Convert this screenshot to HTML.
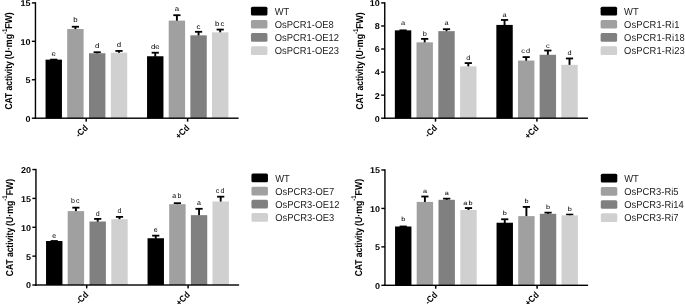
<!DOCTYPE html>
<html><head><meta charset="utf-8"><title>CAT activity</title>
<style>html,body{margin:0;padding:0;background:#fff;}svg{display:block;}</style>
</head><body>
<svg text-rendering="geometricPrecision" width="685" height="304" viewBox="0 0 685 304">
<rect width="685" height="304" fill="#fff"/>
<rect x="52.80" y="59.63" width="1.9" height="0.50" fill="#000"/>
<rect x="50.15" y="58.73" width="7.2" height="1.8" fill="#000"/>
<rect x="45.55" y="59.63" width="16.4" height="58.57" fill="#000000"/>
<text transform="translate(53.75,56.43) scale(1.15,1)" text-anchor="middle" font-family="Liberation Sans, sans-serif" font-size="6.8" fill="#000" letter-spacing="0">e</text>
<rect x="74.45" y="26.73" width="1.9" height="2.81" fill="#000"/>
<rect x="71.80" y="25.83" width="7.2" height="1.8" fill="#000"/>
<rect x="67.20" y="29.03" width="16.4" height="89.17" fill="#a0a0a0"/>
<text transform="translate(75.40,21.93) scale(1.15,1)" text-anchor="middle" font-family="Liberation Sans, sans-serif" font-size="6.8" fill="#000" letter-spacing="0">b</text>
<rect x="96.25" y="52.25" width="1.9" height="1.50" fill="#000"/>
<rect x="93.60" y="51.35" width="7.2" height="1.8" fill="#000"/>
<rect x="89.00" y="53.25" width="16.4" height="64.95" fill="#808080"/>
<text transform="translate(97.20,48.45) scale(1.15,1)" text-anchor="middle" font-family="Liberation Sans, sans-serif" font-size="6.8" fill="#000" letter-spacing="0">d</text>
<rect x="118.05" y="50.94" width="1.9" height="2.27" fill="#000"/>
<rect x="115.40" y="50.04" width="7.2" height="1.8" fill="#000"/>
<rect x="110.80" y="52.71" width="16.4" height="65.49" fill="#d0d0d0"/>
<text transform="translate(119.00,47.24) scale(1.15,1)" text-anchor="middle" font-family="Liberation Sans, sans-serif" font-size="6.8" fill="#000" letter-spacing="0">d</text>
<rect x="154.30" y="52.71" width="1.9" height="4.04" fill="#000"/>
<rect x="151.65" y="51.81" width="7.2" height="1.8" fill="#000"/>
<rect x="147.05" y="56.25" width="16.4" height="61.95" fill="#000000"/>
<text transform="translate(155.25,49.11) scale(1.15,1)" text-anchor="middle" font-family="Liberation Sans, sans-serif" font-size="6.8" fill="#000" letter-spacing="0">de</text>
<rect x="175.95" y="15.20" width="1.9" height="5.88" fill="#000"/>
<rect x="173.30" y="14.30" width="7.2" height="1.8" fill="#000"/>
<rect x="168.70" y="20.58" width="16.4" height="97.62" fill="#a0a0a0"/>
<text transform="translate(176.90,11.40) scale(1.15,1)" text-anchor="middle" font-family="Liberation Sans, sans-serif" font-size="6.8" fill="#000" letter-spacing="0">a</text>
<rect x="197.60" y="31.80" width="1.9" height="4.04" fill="#000"/>
<rect x="194.95" y="30.90" width="7.2" height="1.8" fill="#000"/>
<rect x="190.35" y="35.34" width="16.4" height="82.86" fill="#808080"/>
<text transform="translate(198.55,28.80) scale(1.15,1)" text-anchor="middle" font-family="Liberation Sans, sans-serif" font-size="6.8" fill="#000" letter-spacing="0">c</text>
<rect x="219.25" y="29.57" width="1.9" height="3.27" fill="#000"/>
<rect x="216.60" y="28.67" width="7.2" height="1.8" fill="#000"/>
<rect x="212.00" y="32.34" width="16.4" height="85.86" fill="#d0d0d0"/>
<text transform="translate(220.20,25.97) scale(1.15,1)" text-anchor="middle" font-family="Liberation Sans, sans-serif" font-size="6.8" fill="#000" letter-spacing="0.9">bc</text>
<rect x="34.75" y="2.20" width="1.4" height="116.70" fill="#000"/>
<rect x="34.75" y="117.50" width="203.85" height="1.4" fill="#000"/>
<rect x="31.85" y="117.50" width="3.6" height="1.4" fill="#000"/>
<text transform="translate(30.45,121.60) scale(1.06,1)" text-anchor="end" font-family="Liberation Sans, sans-serif" font-weight="bold" font-size="8.5" fill="#000">0</text>
<rect x="31.85" y="79.07" width="3.6" height="1.4" fill="#000"/>
<text transform="translate(30.45,83.17) scale(1.06,1)" text-anchor="end" font-family="Liberation Sans, sans-serif" font-weight="bold" font-size="8.5" fill="#000">5</text>
<rect x="31.85" y="40.63" width="3.6" height="1.4" fill="#000"/>
<text transform="translate(30.45,44.73) scale(1.06,1)" text-anchor="end" font-family="Liberation Sans, sans-serif" font-weight="bold" font-size="8.5" fill="#000">10</text>
<rect x="31.85" y="2.20" width="3.6" height="1.4" fill="#000"/>
<text transform="translate(30.45,6.30) scale(1.06,1)" text-anchor="end" font-family="Liberation Sans, sans-serif" font-weight="bold" font-size="8.5" fill="#000">15</text>
<rect x="85.45" y="118.20" width="1.5" height="3.4" fill="#000"/>
<text transform="translate(88.50,128.50) rotate(-45) scale(0.9,1)" text-anchor="end" font-family="Liberation Sans, sans-serif" font-weight="bold" font-size="9.0" fill="#000">-Cd</text>
<rect x="186.85" y="118.20" width="1.5" height="3.4" fill="#000"/>
<text transform="translate(189.90,128.50) rotate(-45) scale(0.9,1)" text-anchor="end" font-family="Liberation Sans, sans-serif" font-weight="bold" font-size="9.0" fill="#000">+Cd</text>
<text transform="translate(12.10,109.60) rotate(-90)" textLength="48.3" lengthAdjust="spacingAndGlyphs" font-family="Liberation Sans, sans-serif" font-weight="bold" font-size="10" fill="#000">CAT activity</text>
<text transform="translate(12.10,59.30) rotate(-90)" textLength="47.1" lengthAdjust="spacingAndGlyphs" font-family="Liberation Sans, sans-serif" font-weight="bold" font-size="10" fill="#000">(U·mg<tspan dy="-5.0" font-size="6.8">-1</tspan><tspan dy="5.0">FW)</tspan></text>
<rect x="250.95" y="6.75" width="16.5" height="8.7" rx="1.5" fill="#000000"/>
<text transform="translate(274.75,14.75) scale(0.934,1)" font-family="Liberation Sans, sans-serif" font-size="10.05" fill="#222" letter-spacing="0">WT</text>
<rect x="250.95" y="19.90" width="16.5" height="8.7" rx="1.5" fill="#a0a0a0"/>
<text transform="translate(274.75,27.90) scale(0.934,1)" font-family="Liberation Sans, sans-serif" font-size="10.05" fill="#222" letter-spacing="0">OsPCR1-OE8</text>
<rect x="250.95" y="33.05" width="16.5" height="8.7" rx="1.5" fill="#808080"/>
<text transform="translate(274.75,41.05) scale(0.934,1)" font-family="Liberation Sans, sans-serif" font-size="10.05" fill="#222" letter-spacing="0">OsPCR1-OE12</text>
<rect x="250.95" y="46.20" width="16.5" height="8.7" rx="1.5" fill="#d0d0d0"/>
<text transform="translate(274.75,54.20) scale(0.934,1)" font-family="Liberation Sans, sans-serif" font-size="10.05" fill="#222" letter-spacing="0">OsPCR1-OE23</text>
<rect x="402.10" y="30.34" width="1.9" height="0.50" fill="#000"/>
<rect x="399.45" y="29.44" width="7.2" height="1.8" fill="#000"/>
<rect x="394.85" y="30.34" width="16.4" height="87.86" fill="#000000"/>
<text transform="translate(403.05,25.24) scale(1.1,1)" text-anchor="middle" font-family="Liberation Sans, sans-serif" font-size="6.7" fill="#000" letter-spacing="0">a</text>
<rect x="423.75" y="38.87" width="1.9" height="3.96" fill="#000"/>
<rect x="421.10" y="37.97" width="7.2" height="1.8" fill="#000"/>
<rect x="416.50" y="42.33" width="16.4" height="75.87" fill="#a0a0a0"/>
<text transform="translate(424.70,36.27) scale(1.1,1)" text-anchor="middle" font-family="Liberation Sans, sans-serif" font-size="6.7" fill="#000" letter-spacing="0">b</text>
<rect x="445.55" y="29.19" width="1.9" height="2.46" fill="#000"/>
<rect x="442.90" y="28.29" width="7.2" height="1.8" fill="#000"/>
<rect x="438.30" y="31.15" width="16.4" height="87.05" fill="#808080"/>
<text transform="translate(446.50,25.39) scale(1.1,1)" text-anchor="middle" font-family="Liberation Sans, sans-serif" font-size="6.7" fill="#000" letter-spacing="0">a</text>
<rect x="467.35" y="63.09" width="1.9" height="3.73" fill="#000"/>
<rect x="464.70" y="62.19" width="7.2" height="1.8" fill="#000"/>
<rect x="460.10" y="66.31" width="16.4" height="51.89" fill="#d0d0d0"/>
<text transform="translate(468.30,60.49) scale(1.1,1)" text-anchor="middle" font-family="Liberation Sans, sans-serif" font-size="6.7" fill="#000" letter-spacing="0">d</text>
<rect x="503.60" y="19.96" width="1.9" height="5.46" fill="#000"/>
<rect x="500.95" y="19.06" width="7.2" height="1.8" fill="#000"/>
<rect x="496.35" y="24.92" width="16.4" height="93.28" fill="#000000"/>
<text transform="translate(504.55,16.76) scale(1.1,1)" text-anchor="middle" font-family="Liberation Sans, sans-serif" font-size="6.7" fill="#000" letter-spacing="0">a</text>
<rect x="525.25" y="57.09" width="1.9" height="3.96" fill="#000"/>
<rect x="522.60" y="56.19" width="7.2" height="1.8" fill="#000"/>
<rect x="518.00" y="60.55" width="16.4" height="57.65" fill="#a0a0a0"/>
<text transform="translate(526.20,52.89) scale(1.1,1)" text-anchor="middle" font-family="Liberation Sans, sans-serif" font-size="6.7" fill="#000" letter-spacing="0.9">cd</text>
<rect x="546.90" y="50.52" width="1.9" height="4.77" fill="#000"/>
<rect x="544.25" y="49.62" width="7.2" height="1.8" fill="#000"/>
<rect x="539.65" y="54.79" width="16.4" height="63.41" fill="#808080"/>
<text transform="translate(547.85,47.82) scale(1.1,1)" text-anchor="middle" font-family="Liberation Sans, sans-serif" font-size="6.7" fill="#000" letter-spacing="0">c</text>
<rect x="568.55" y="58.47" width="1.9" height="6.84" fill="#000"/>
<rect x="565.90" y="57.57" width="7.2" height="1.8" fill="#000"/>
<rect x="561.30" y="64.82" width="16.4" height="53.38" fill="#d0d0d0"/>
<text transform="translate(569.50,55.07) scale(1.1,1)" text-anchor="middle" font-family="Liberation Sans, sans-serif" font-size="6.7" fill="#000" letter-spacing="0">d</text>
<rect x="384.05" y="2.20" width="1.4" height="116.70" fill="#000"/>
<rect x="384.05" y="117.50" width="203.85" height="1.4" fill="#000"/>
<rect x="381.15" y="117.50" width="3.6" height="1.4" fill="#000"/>
<text transform="translate(379.75,121.60) scale(1.06,1)" text-anchor="end" font-family="Liberation Sans, sans-serif" font-weight="bold" font-size="8.5" fill="#000">0</text>
<rect x="381.15" y="94.44" width="3.6" height="1.4" fill="#000"/>
<text transform="translate(379.75,98.54) scale(1.06,1)" text-anchor="end" font-family="Liberation Sans, sans-serif" font-weight="bold" font-size="8.5" fill="#000">2</text>
<rect x="381.15" y="71.38" width="3.6" height="1.4" fill="#000"/>
<text transform="translate(379.75,75.48) scale(1.06,1)" text-anchor="end" font-family="Liberation Sans, sans-serif" font-weight="bold" font-size="8.5" fill="#000">4</text>
<rect x="381.15" y="48.32" width="3.6" height="1.4" fill="#000"/>
<text transform="translate(379.75,52.42) scale(1.06,1)" text-anchor="end" font-family="Liberation Sans, sans-serif" font-weight="bold" font-size="8.5" fill="#000">6</text>
<rect x="381.15" y="25.26" width="3.6" height="1.4" fill="#000"/>
<text transform="translate(379.75,29.36) scale(1.06,1)" text-anchor="end" font-family="Liberation Sans, sans-serif" font-weight="bold" font-size="8.5" fill="#000">8</text>
<rect x="381.15" y="2.20" width="3.6" height="1.4" fill="#000"/>
<text transform="translate(379.75,6.30) scale(1.06,1)" text-anchor="end" font-family="Liberation Sans, sans-serif" font-weight="bold" font-size="8.5" fill="#000">10</text>
<rect x="434.75" y="118.20" width="1.5" height="3.4" fill="#000"/>
<text transform="translate(437.80,128.50) rotate(-45) scale(0.9,1)" text-anchor="end" font-family="Liberation Sans, sans-serif" font-weight="bold" font-size="9.0" fill="#000">-Cd</text>
<rect x="536.15" y="118.20" width="1.5" height="3.4" fill="#000"/>
<text transform="translate(539.20,128.50) rotate(-45) scale(0.9,1)" text-anchor="end" font-family="Liberation Sans, sans-serif" font-weight="bold" font-size="9.0" fill="#000">+Cd</text>
<text transform="translate(362.80,109.60) rotate(-90)" textLength="48.3" lengthAdjust="spacingAndGlyphs" font-family="Liberation Sans, sans-serif" font-weight="bold" font-size="10" fill="#000">CAT activity</text>
<text transform="translate(362.80,59.30) rotate(-90)" textLength="47.1" lengthAdjust="spacingAndGlyphs" font-family="Liberation Sans, sans-serif" font-weight="bold" font-size="10" fill="#000">(U·mg<tspan dy="-5.0" font-size="6.8">-1</tspan><tspan dy="5.0">FW)</tspan></text>
<rect x="600.60" y="6.75" width="16.5" height="8.7" rx="1.5" fill="#000000"/>
<text transform="translate(624.05,14.75) scale(0.934,1)" font-family="Liberation Sans, sans-serif" font-size="10.05" fill="#222" letter-spacing="0.14">WT</text>
<rect x="600.60" y="19.90" width="16.5" height="8.7" rx="1.5" fill="#a0a0a0"/>
<text transform="translate(624.05,27.90) scale(0.934,1)" font-family="Liberation Sans, sans-serif" font-size="10.05" fill="#222" letter-spacing="0.14">OsPCR1-Ri1</text>
<rect x="600.60" y="33.05" width="16.5" height="8.7" rx="1.5" fill="#808080"/>
<text transform="translate(624.05,41.05) scale(0.934,1)" font-family="Liberation Sans, sans-serif" font-size="10.05" fill="#222" letter-spacing="0.14">OsPCR1-Ri18</text>
<rect x="600.60" y="46.20" width="16.5" height="8.7" rx="1.5" fill="#d0d0d0"/>
<text transform="translate(624.05,54.20) scale(0.934,1)" font-family="Liberation Sans, sans-serif" font-size="10.05" fill="#222" letter-spacing="0.14">OsPCR1-Ri23</text>
<rect x="53.30" y="241.01" width="1.9" height="0.50" fill="#000"/>
<rect x="50.65" y="240.11" width="7.2" height="1.8" fill="#000"/>
<rect x="46.05" y="241.01" width="16.4" height="43.99" fill="#000000"/>
<text transform="translate(54.25,238.21) scale(1.0,1)" text-anchor="middle" font-family="Liberation Sans, sans-serif" font-size="7.0" fill="#000" letter-spacing="0">e</text>
<rect x="74.95" y="207.65" width="1.9" height="3.96" fill="#000"/>
<rect x="72.30" y="206.75" width="7.2" height="1.8" fill="#000"/>
<rect x="67.70" y="211.11" width="16.4" height="73.89" fill="#a0a0a0"/>
<text transform="translate(75.90,202.85) scale(1.0,1)" text-anchor="middle" font-family="Liberation Sans, sans-serif" font-size="7.0" fill="#000" letter-spacing="1.3">bc</text>
<rect x="96.75" y="218.90" width="1.9" height="3.10" fill="#000"/>
<rect x="94.10" y="218.00" width="7.2" height="1.8" fill="#000"/>
<rect x="89.50" y="221.50" width="16.4" height="63.50" fill="#808080"/>
<text transform="translate(97.70,215.70) scale(1.0,1)" text-anchor="middle" font-family="Liberation Sans, sans-serif" font-size="7.0" fill="#000" letter-spacing="0">d</text>
<rect x="118.55" y="216.88" width="1.9" height="2.81" fill="#000"/>
<rect x="115.90" y="215.98" width="7.2" height="1.8" fill="#000"/>
<rect x="111.30" y="219.19" width="16.4" height="65.81" fill="#d0d0d0"/>
<text transform="translate(119.50,213.08) scale(1.0,1)" text-anchor="middle" font-family="Liberation Sans, sans-serif" font-size="7.0" fill="#000" letter-spacing="0">d</text>
<rect x="154.80" y="235.65" width="1.9" height="3.10" fill="#000"/>
<rect x="152.15" y="234.75" width="7.2" height="1.8" fill="#000"/>
<rect x="147.55" y="238.24" width="16.4" height="46.76" fill="#000000"/>
<text transform="translate(155.75,232.25) scale(1.0,1)" text-anchor="middle" font-family="Liberation Sans, sans-serif" font-size="7.0" fill="#000" letter-spacing="0">e</text>
<rect x="176.45" y="203.20" width="1.9" height="1.48" fill="#000"/>
<rect x="173.80" y="202.30" width="7.2" height="1.8" fill="#000"/>
<rect x="169.20" y="204.19" width="16.4" height="80.81" fill="#a0a0a0"/>
<text transform="translate(177.40,197.60) scale(1.0,1)" text-anchor="middle" font-family="Liberation Sans, sans-serif" font-size="7.0" fill="#000" letter-spacing="1.3">ab</text>
<rect x="198.10" y="208.80" width="1.9" height="6.85" fill="#000"/>
<rect x="195.45" y="207.90" width="7.2" height="1.8" fill="#000"/>
<rect x="190.85" y="215.15" width="16.4" height="69.85" fill="#808080"/>
<text transform="translate(199.05,205.00) scale(1.0,1)" text-anchor="middle" font-family="Liberation Sans, sans-serif" font-size="7.0" fill="#000" letter-spacing="0">a</text>
<rect x="219.75" y="196.68" width="1.9" height="5.29" fill="#000"/>
<rect x="217.10" y="195.78" width="7.2" height="1.8" fill="#000"/>
<rect x="212.50" y="201.47" width="16.4" height="83.53" fill="#d0d0d0"/>
<text transform="translate(220.70,192.88) scale(1.0,1)" text-anchor="middle" font-family="Liberation Sans, sans-serif" font-size="7.0" fill="#000" letter-spacing="1.3">cd</text>
<rect x="35.25" y="168.85" width="1.4" height="116.85" fill="#000"/>
<rect x="35.25" y="284.30" width="203.85" height="1.4" fill="#000"/>
<rect x="32.35" y="284.30" width="3.6" height="1.4" fill="#000"/>
<text transform="translate(30.95,288.40) scale(1.06,1)" text-anchor="end" font-family="Liberation Sans, sans-serif" font-weight="bold" font-size="8.5" fill="#000">0</text>
<rect x="32.35" y="255.44" width="3.6" height="1.4" fill="#000"/>
<text transform="translate(30.95,259.54) scale(1.06,1)" text-anchor="end" font-family="Liberation Sans, sans-serif" font-weight="bold" font-size="8.5" fill="#000">5</text>
<rect x="32.35" y="226.58" width="3.6" height="1.4" fill="#000"/>
<text transform="translate(30.95,230.68) scale(1.06,1)" text-anchor="end" font-family="Liberation Sans, sans-serif" font-weight="bold" font-size="8.5" fill="#000">10</text>
<rect x="32.35" y="197.71" width="3.6" height="1.4" fill="#000"/>
<text transform="translate(30.95,201.81) scale(1.06,1)" text-anchor="end" font-family="Liberation Sans, sans-serif" font-weight="bold" font-size="8.5" fill="#000">15</text>
<rect x="32.35" y="168.85" width="3.6" height="1.4" fill="#000"/>
<text transform="translate(30.95,172.95) scale(1.06,1)" text-anchor="end" font-family="Liberation Sans, sans-serif" font-weight="bold" font-size="8.5" fill="#000">20</text>
<rect x="85.95" y="285.00" width="1.5" height="3.4" fill="#000"/>
<text transform="translate(89.00,295.30) rotate(-45) scale(0.9,1)" text-anchor="end" font-family="Liberation Sans, sans-serif" font-weight="bold" font-size="9.0" fill="#000">-Cd</text>
<rect x="187.35" y="285.00" width="1.5" height="3.4" fill="#000"/>
<text transform="translate(190.40,295.30) rotate(-45) scale(0.9,1)" text-anchor="end" font-family="Liberation Sans, sans-serif" font-weight="bold" font-size="9.0" fill="#000">+Cd</text>
<text transform="translate(13.10,276.20) rotate(-90)" textLength="48.3" lengthAdjust="spacingAndGlyphs" font-family="Liberation Sans, sans-serif" font-weight="bold" font-size="10" fill="#000">CAT activity</text>
<text transform="translate(13.10,225.90) rotate(-90)" textLength="47.1" lengthAdjust="spacingAndGlyphs" font-family="Liberation Sans, sans-serif" font-weight="bold" font-size="10" fill="#000">(U·mg<tspan dy="-6.0" font-size="6.8">-1</tspan><tspan dy="6.0">FW)</tspan></text>
<rect x="251.45" y="173.55" width="16.5" height="8.7" rx="1.5" fill="#000000"/>
<text transform="translate(275.25,181.55) scale(0.934,1)" font-family="Liberation Sans, sans-serif" font-size="10.05" fill="#222" letter-spacing="0">WT</text>
<rect x="251.45" y="186.70" width="16.5" height="8.7" rx="1.5" fill="#a0a0a0"/>
<text transform="translate(275.25,194.70) scale(0.934,1)" font-family="Liberation Sans, sans-serif" font-size="10.05" fill="#222" letter-spacing="0">OsPCR3-OE7</text>
<rect x="251.45" y="199.85" width="16.5" height="8.7" rx="1.5" fill="#808080"/>
<text transform="translate(275.25,207.85) scale(0.934,1)" font-family="Liberation Sans, sans-serif" font-size="10.05" fill="#222" letter-spacing="0">OsPCR3-OE12</text>
<rect x="251.45" y="213.00" width="16.5" height="8.7" rx="1.5" fill="#d0d0d0"/>
<text transform="translate(275.25,221.00) scale(0.934,1)" font-family="Liberation Sans, sans-serif" font-size="10.05" fill="#222" letter-spacing="0">OsPCR3-OE3</text>
<rect x="402.30" y="226.50" width="1.9" height="0.50" fill="#000"/>
<rect x="399.65" y="225.60" width="7.2" height="1.8" fill="#000"/>
<rect x="395.05" y="226.50" width="16.4" height="58.80" fill="#000000"/>
<text transform="translate(403.25,221.20) scale(1.2,1)" text-anchor="middle" font-family="Liberation Sans, sans-serif" font-size="6.1" fill="#000" letter-spacing="0">b</text>
<rect x="423.95" y="196.52" width="1.9" height="5.88" fill="#000"/>
<rect x="421.30" y="195.62" width="7.2" height="1.8" fill="#000"/>
<rect x="416.70" y="201.90" width="16.4" height="83.40" fill="#a0a0a0"/>
<text transform="translate(424.90,192.72) scale(1.2,1)" text-anchor="middle" font-family="Liberation Sans, sans-serif" font-size="6.1" fill="#000" letter-spacing="0">a</text>
<rect x="445.75" y="198.67" width="1.9" height="1.65" fill="#000"/>
<rect x="443.10" y="197.77" width="7.2" height="1.8" fill="#000"/>
<rect x="438.50" y="199.82" width="16.4" height="85.48" fill="#808080"/>
<text transform="translate(446.70,194.57) scale(1.2,1)" text-anchor="middle" font-family="Liberation Sans, sans-serif" font-size="6.1" fill="#000" letter-spacing="0">a</text>
<rect x="467.55" y="208.05" width="1.9" height="2.42" fill="#000"/>
<rect x="464.90" y="207.15" width="7.2" height="1.8" fill="#000"/>
<rect x="460.30" y="209.97" width="16.4" height="75.33" fill="#d0d0d0"/>
<text transform="translate(468.50,204.65) scale(1.2,1)" text-anchor="middle" font-family="Liberation Sans, sans-serif" font-size="6.1" fill="#000" letter-spacing="1.0">ab</text>
<rect x="503.80" y="219.27" width="1.9" height="3.96" fill="#000"/>
<rect x="501.15" y="218.37" width="7.2" height="1.8" fill="#000"/>
<rect x="496.55" y="222.73" width="16.4" height="62.57" fill="#000000"/>
<text transform="translate(504.75,215.47) scale(1.2,1)" text-anchor="middle" font-family="Liberation Sans, sans-serif" font-size="6.1" fill="#000" letter-spacing="0">b</text>
<rect x="525.45" y="206.90" width="1.9" height="9.72" fill="#000"/>
<rect x="522.80" y="206.00" width="7.2" height="1.8" fill="#000"/>
<rect x="518.20" y="216.12" width="16.4" height="69.18" fill="#a0a0a0"/>
<text transform="translate(526.40,203.10) scale(1.2,1)" text-anchor="middle" font-family="Liberation Sans, sans-serif" font-size="6.1" fill="#000" letter-spacing="0">b</text>
<rect x="547.10" y="212.66" width="1.9" height="1.65" fill="#000"/>
<rect x="544.45" y="211.76" width="7.2" height="1.8" fill="#000"/>
<rect x="539.85" y="213.81" width="16.4" height="71.49" fill="#808080"/>
<text transform="translate(548.05,208.86) scale(1.2,1)" text-anchor="middle" font-family="Liberation Sans, sans-serif" font-size="6.1" fill="#000" letter-spacing="0">b</text>
<rect x="568.75" y="214.58" width="1.9" height="1.27" fill="#000"/>
<rect x="566.10" y="213.68" width="7.2" height="1.8" fill="#000"/>
<rect x="561.50" y="215.35" width="16.4" height="69.95" fill="#d0d0d0"/>
<text transform="translate(569.70,210.78) scale(1.2,1)" text-anchor="middle" font-family="Liberation Sans, sans-serif" font-size="6.1" fill="#000" letter-spacing="0">b</text>
<rect x="384.25" y="169.30" width="1.4" height="116.70" fill="#000"/>
<rect x="384.25" y="284.60" width="203.85" height="1.4" fill="#000"/>
<rect x="381.35" y="284.60" width="3.6" height="1.4" fill="#000"/>
<text transform="translate(379.95,288.70) scale(1.06,1)" text-anchor="end" font-family="Liberation Sans, sans-serif" font-weight="bold" font-size="8.5" fill="#000">0</text>
<rect x="381.35" y="246.17" width="3.6" height="1.4" fill="#000"/>
<text transform="translate(379.95,250.27) scale(1.06,1)" text-anchor="end" font-family="Liberation Sans, sans-serif" font-weight="bold" font-size="8.5" fill="#000">5</text>
<rect x="381.35" y="207.73" width="3.6" height="1.4" fill="#000"/>
<text transform="translate(379.95,211.83) scale(1.06,1)" text-anchor="end" font-family="Liberation Sans, sans-serif" font-weight="bold" font-size="8.5" fill="#000">10</text>
<rect x="381.35" y="169.30" width="3.6" height="1.4" fill="#000"/>
<text transform="translate(379.95,173.40) scale(1.06,1)" text-anchor="end" font-family="Liberation Sans, sans-serif" font-weight="bold" font-size="8.5" fill="#000">15</text>
<rect x="434.95" y="285.30" width="1.5" height="3.4" fill="#000"/>
<text transform="translate(438.00,295.60) rotate(-45) scale(0.9,1)" text-anchor="end" font-family="Liberation Sans, sans-serif" font-weight="bold" font-size="9.0" fill="#000">-Cd</text>
<rect x="536.35" y="285.30" width="1.5" height="3.4" fill="#000"/>
<text transform="translate(539.40,295.60) rotate(-45) scale(0.9,1)" text-anchor="end" font-family="Liberation Sans, sans-serif" font-weight="bold" font-size="9.0" fill="#000">+Cd</text>
<text transform="translate(361.90,276.30) rotate(-90)" textLength="48.3" lengthAdjust="spacingAndGlyphs" font-family="Liberation Sans, sans-serif" font-weight="bold" font-size="10" fill="#000">CAT activity</text>
<text transform="translate(361.90,226.00) rotate(-90)" textLength="47.1" lengthAdjust="spacingAndGlyphs" font-family="Liberation Sans, sans-serif" font-weight="bold" font-size="10" fill="#000">(U·mg<tspan dy="-6.2" font-size="6.8">-1</tspan><tspan dy="6.2">FW)</tspan></text>
<rect x="600.80" y="173.85" width="16.5" height="8.7" rx="1.5" fill="#000000"/>
<text transform="translate(624.25,181.85) scale(0.934,1)" font-family="Liberation Sans, sans-serif" font-size="10.05" fill="#222" letter-spacing="0">WT</text>
<rect x="600.80" y="187.00" width="16.5" height="8.7" rx="1.5" fill="#a0a0a0"/>
<text transform="translate(624.25,195.00) scale(0.934,1)" font-family="Liberation Sans, sans-serif" font-size="10.05" fill="#222" letter-spacing="0">OsPCR3-Ri5</text>
<rect x="600.80" y="200.15" width="16.5" height="8.7" rx="1.5" fill="#808080"/>
<text transform="translate(624.25,208.15) scale(0.934,1)" font-family="Liberation Sans, sans-serif" font-size="10.05" fill="#222" letter-spacing="0">OsPCR3-Ri14</text>
<rect x="600.80" y="213.30" width="16.5" height="8.7" rx="1.5" fill="#d0d0d0"/>
<text transform="translate(624.25,221.30) scale(0.934,1)" font-family="Liberation Sans, sans-serif" font-size="10.05" fill="#222" letter-spacing="0">OsPCR3-Ri7</text>
</svg>
</body></html>
